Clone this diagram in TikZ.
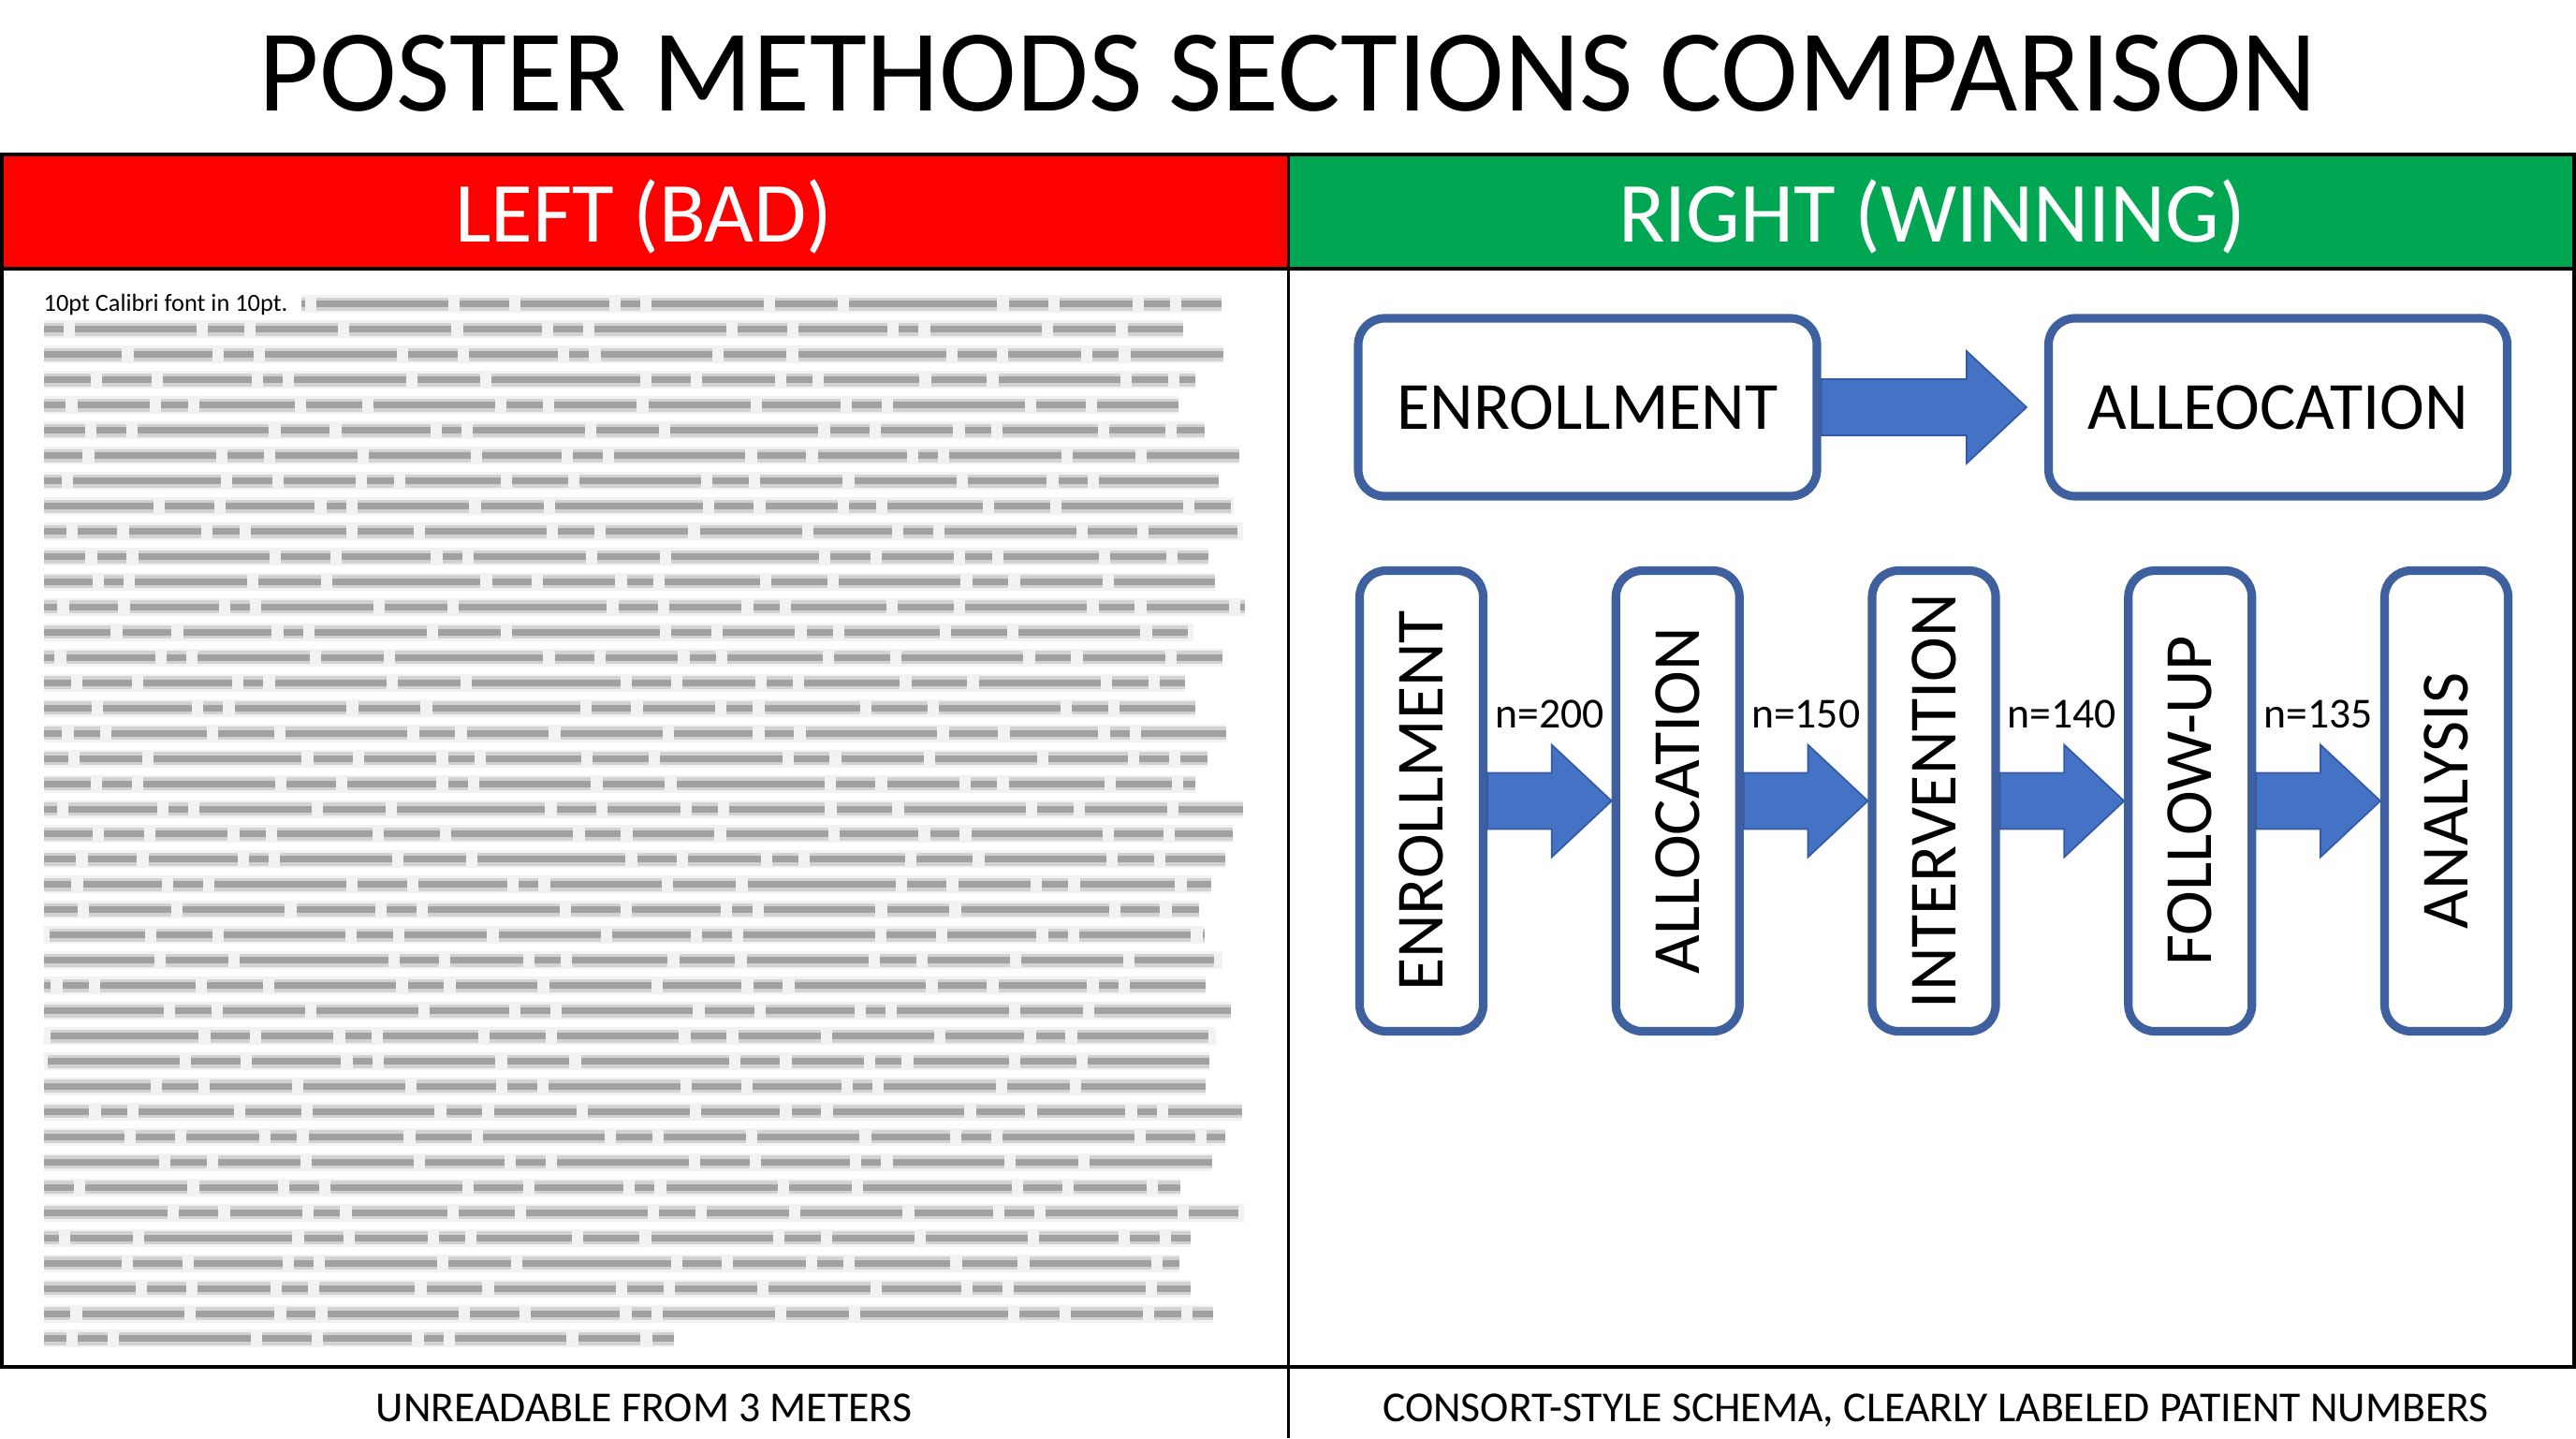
\documentclass[tikz,border=0pt]{standalone}
\usepackage{fontspec}
\setmainfont{Carlito}
\usepackage{xcolor}
\usepackage{tikz}
\usetikzlibrary{calc,positioning}
\definecolor{badred}{RGB}{255,0,0}
\definecolor{wingreen}{RGB}{0,166,81}
\definecolor{boxblue}{RGB}{62,96,158}
\definecolor{arrowblue}{RGB}{68,114,196}
\definecolor{arrowedge}{RGB}{52,90,164}

\begin{document}
\begin{tikzpicture}[
    frame/.style={draw=black, line width=1.1pt},
    stepbox/.style={draw=boxblue, line width=2.6pt, rounded corners=8pt, fill=white, inner sep=0pt, font=\fontsize{20.5}{24}\selectfont},
    hbox/.style={stepbox, minimum width=4.9cm, minimum height=1.9cm},
    vbox/.style={stepbox, minimum width=1.32cm, minimum height=4.92cm},
    blockarrow/.style={fill=arrowblue, draw=arrowedge, line width=0.5pt, line join=miter},
    nlabel/.style={font=\fontsize{13}{15}\selectfont},
    headtxt/.style={anchor=base, text=white, font=\fontsize{26}{30}\selectfont},
    captxt/.style={anchor=base, font=\fontsize{13}{15}\selectfont},
    words/.style={dash pattern=on 31pt off 3.5pt on 24pt off 3.5pt on 9pt off 3.5pt on 40pt off 3.5pt on 15pt off 3.5pt on 27pt off 3.5pt on 6pt off 3.5pt on 34pt off 3.5pt on 19pt off 3.5pt on 45pt off 3.5pt on 12pt off 3.5pt on 22pt off 3.5pt on 8pt off 3.5pt on 29pt off 3.5pt on 17pt off 3.5pt on 37pt off 3.5pt on 11pt off 3.5pt on 25pt off 3.5pt},
    blurhalo/.style={draw=gray, line width=0.19cm, opacity=0.1},
    blurmid/.style={words, draw=gray, line width=0.14cm, opacity=0.28},
    blurcore/.style={words, draw=gray!80!black, line width=0.07cm, opacity=0.45}
]
    \useasboundingbox (0,0) rectangle (27.52,-15.36);
    \fill[white] (0,0) rectangle (27.52,-15.36);

    % Title
    \node[anchor=base, font=\fontsize{35.5}{40}\selectfont] (title) at (13.76,-1.19) {POSTER METHODS SECTIONS COMPARISON};

    % Header bars
    \fill[badred] (0,-1.65) rectangle (13.765,-2.87);
    \fill[wingreen] (13.765,-1.65) rectangle (27.52,-2.87);
    \node[headtxt] (lefthead) at (6.88,-2.58) {LEFT (BAD)};
    \node[headtxt] (righthead) at (20.64,-2.58) {RIGHT (WINNING)};

    % Frame
    \draw[frame] (0.02,-1.65) rectangle (27.50,-14.60);
    \draw[frame] (0,-2.87) -- (27.52,-2.87);
    \draw[frame] (13.765,-1.65) -- (13.765,-14.60);
    \draw[black, line width=0.6pt] (13.765,-14.60) -- (13.765,-15.36);

    % Left panel: small print
    \node[anchor=base west, font=\fontsize{7.5}{9}\selectfont, inner sep=0pt] (lead) at (0.46,-3.32) {10pt Calibri font in 10pt.};
    \coordinate (lineend) at (13.05,0);
    \draw[blurhalo] ([xshift=4pt]lead.east) -- (lead.east -| lineend);
    \draw[blurmid, dash phase=70pt] ([xshift=4pt]lead.east) -- (lead.east -| lineend);
    \draw[blurcore, dash phase=70pt] ([xshift=4pt]lead.east) -- (lead.east -| lineend);

    \pgfmathsetseed{2024}
    \foreach \i in {1,...,41} {
        \pgfmathsetmacro{\ly}{-3.25-0.2695*\i}
        \pgfmathsetmacro{\le}{ifthenelse(\i==41,7.2,12.55+0.75*rnd)}
        \pgfmathsetmacro{\ph}{465*rnd}
        \draw[blurhalo] (0.47,\ly) -- (\le,\ly);
        \draw[blurmid, dash phase=\ph pt] (0.47,\ly) -- (\le,\ly);
        \draw[blurcore, dash phase=\ph pt] (0.47,\ly) -- (\le,\ly);
    }

    % Right panel: top row
    \node[hbox] (enroll) at (16.96,-4.35) {ENROLLMENT};
    \node[hbox] (alleo) at (24.335,-4.35) {ALLEOCATION};

    \draw[blockarrow] ($(enroll.east)+(0,0.3)$) -- ($(alleo.west)+(-0.83,0.3)$) -- ($(alleo.west)+(-0.83,0.6)$)
        -- ($(alleo.west)+(-0.19,0)$) -- ($(alleo.west)+(-0.83,-0.6)$) -- ($(alleo.west)+(-0.83,-0.3)$)
        -- ($(enroll.east)+(0,-0.3)$) -- cycle;

    % Right panel: CONSORT steps
    \foreach \i/\t in {1/ENROLLMENT, 2/ALLOCATION, 3/INTERVENTION, 4/FOLLOW-UP, 5/ANALYSIS} {
        \node[vbox] (v\i) at ({15.185+(\i-1)*2.7375},-8.555) {\rotatebox{90}{\t}};
    }

    \foreach \a/\b/\n in {v1/v2/200, v2/v3/150, v3/v4/140, v4/v5/135} {
        \draw[blockarrow] ($(\a.east)+(0,0.3)$) -- ($(\b.west)+(-0.64,0.3)$) -- ($(\b.west)+(-0.64,0.6)$)
            -- (\b.west) -- ($(\b.west)+(-0.64,-0.6)$) -- ($(\b.west)+(-0.64,-0.3)$)
            -- ($(\a.east)+(0,-0.3)$) -- cycle;
        \node[nlabel] (n\a) at ($(\a.east)!0.5!(\b.west)+(0,0.93)$) {n=\n};
    }

    % Captions
    \node[captxt] (leftcap) at (6.88,-15.18) {UNREADABLE FROM 3 METERS};
    \node[captxt] (rightcap) at (20.68,-15.18) {CONSORT-STYLE SCHEMA, CLEARLY LABELED PATIENT NUMBERS};
\end{tikzpicture}
\end{document}
